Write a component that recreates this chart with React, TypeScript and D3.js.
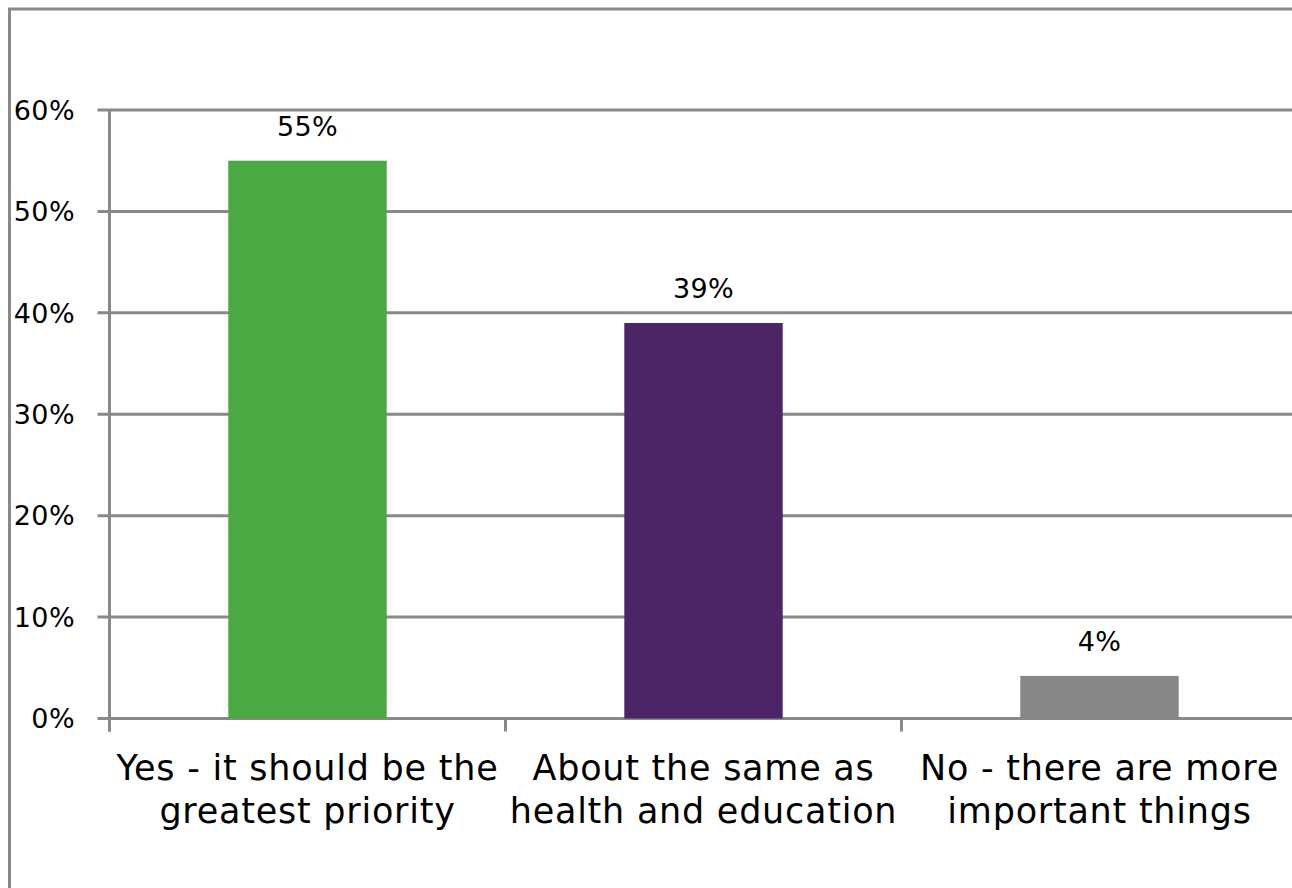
import React from "react";
import * as d3 from "d3";

const categories: string[][] = [
  ["Yes - it should be the", "greatest priority"],
  ["About the same as", "health and education"],
  ["No - there are more", "important things"],
];
const values: number[] = [0.55, 0.39, 0.042];
const barColors: string[] = ["#4BA942", "#4B2565", "#878787"];
const yTicks: number[] = [0, 0.1, 0.2, 0.3, 0.4, 0.5, 0.6];

const W = 1292;
const H = 888;
const left = 109.5;
const right = 1297.5;
const top = 110;
const bottom = 718.5;
const FONT = "'DejaVu Sans', Verdana, sans-serif";
const GRID = "#898989";

export default function App() {
  const x = d3
    .scaleBand<number>()
    .domain(d3.range(categories.length))
    .range([left, right])
    .paddingInner(0.6)
    .paddingOuter(0.3);
  const y = d3.scaleLinear().domain([0, 0.6]).range([bottom, top]);
  const step = x.step();
  const fmt = d3.format(".0%");

  return (
    <svg
      width={W}
      height={H}
      style={{ position: "absolute", left: 0, top: 0, display: "block" }}
      fontFamily={FONT}
    >
      <rect x={0} y={0} width={W} height={H} fill="#fff" />
      {/* outer frame */}
      <rect
        x={9.5}
        y={9}
        width={W + 40}
        height={H + 40}
        fill="none"
        stroke={GRID}
        strokeWidth={3}
      />
      {/* gridlines */}
      {yTicks.map((t) => (
        <line
          key={"g" + t}
          x1={left - 12}
          x2={right}
          y1={y(t)}
          y2={y(t)}
          stroke={GRID}
          strokeWidth={3}
        />
      ))}
      {/* y axis */}
      <line x1={left} x2={left} y1={top} y2={bottom + 13} stroke={GRID} strokeWidth={3} />
      {/* category ticks */}
      {d3.range(categories.length + 1).map((i) => (
        <line
          key={"ct" + i}
          x1={left + i * step}
          x2={left + i * step}
          y1={bottom}
          y2={bottom + 13}
          stroke={GRID}
          strokeWidth={3}
        />
      ))}
      {/* y tick labels */}
      {yTicks.map((t) => (
        <text
          key={"yl" + t}
          x={75}
          y={y(t)}
          dy="0.36em"
          textAnchor="end"
          fontSize={27}
          letterSpacing={0.4}
          fill="#000"
        >
          {fmt(t)}
        </text>
      ))}
      {/* bars */}
      {values.map((v, i) => (
        <rect
          key={"b" + i}
          x={x(i)!}
          y={y(v)}
          width={x.bandwidth()}
          height={y(0) - y(v)}
          fill={barColors[i]}
        />
      ))}
      {/* data labels */}
      {values.map((v, i) => (
        <text
          key={"dl" + i}
          x={x(i)! + x.bandwidth() / 2}
          y={y(v) - 25}
          textAnchor="middle"
          fontSize={27}
          letterSpacing={0.4}
          fill="#000"
        >
          {fmt(v)}
        </text>
      ))}
      {/* category labels */}
      {categories.map((lines, i) => (
        <text
          key={"c" + i}
          x={x(i)! + x.bandwidth() / 2}
          y={780}
          textAnchor="middle"
          fontSize={35}
          letterSpacing={0.75}
          fill="#000"
        >
          {lines.map((l, j) => (
            <tspan key={j} x={x(i)! + x.bandwidth() / 2} dy={j === 0 ? 0 : 42.7}>
              {l}
            </tspan>
          ))}
        </text>
      ))}
    </svg>
  );
}
